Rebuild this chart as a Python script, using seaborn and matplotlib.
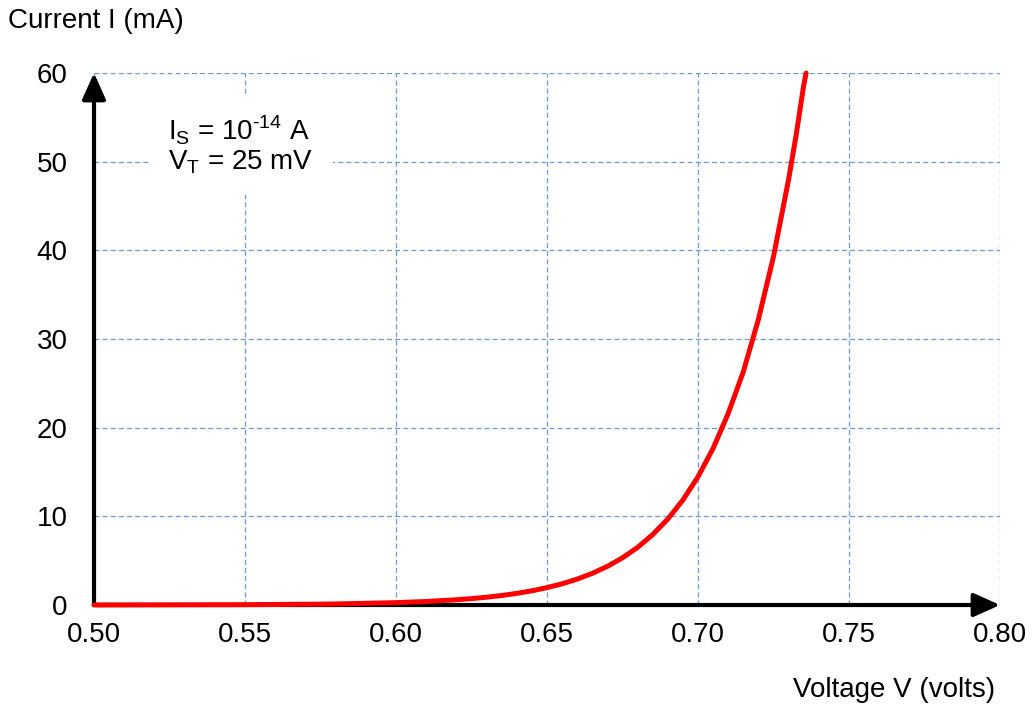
import matplotlib
matplotlib.use("Agg")
import matplotlib.pyplot as plt
import seaborn as sns
import pandas as pd

# Values (voltage in V, current in mA)
voltage = [0.500, 0.550, 0.575, 0.580, 0.600, 0.610, 0.620, 0.625, 0.630, 0.635,
           0.640, 0.645, 0.650, 0.655, 0.660, 0.665, 0.670, 0.675, 0.680, 0.685,
           0.690, 0.695, 0.700, 0.705, 0.710, 0.715, 0.720, 0.725, 0.730, 0.7325,
           0.735, 0.7358]
current = [0.005, 0.036, 0.097, 0.119, 0.265, 0.395, 0.589, 0.72, 0.879, 1.07,
           1.31, 1.60, 1.96, 2.39, 2.92, 3.57, 4.36, 5.32, 6.50, 7.94,
           9.69, 11.84, 14.46, 17.66, 21.6, 26.3, 32.2, 39.3, 48.0, 53.0,
           58.6, 60.0]

x_ticks = [0.50, 0.55, 0.60, 0.65, 0.70, 0.75, 0.80]
y_ticks = [0, 10, 20, 30, 40, 50, 60]
x_label = "Voltage V (volts)"
y_label = "Current I (mA)"
note_lines = ["I$_\\mathregular{S}$ = 10$^\\text{-14}$ A",
              "V$_\\mathregular{T}$ = 25 mV"]

df = pd.DataFrame({"V": voltage, "I": current})

sns.set_theme(style="white")
plt.rcParams["font.family"] = ["Liberation Sans", "DejaVu Sans"]
plt.rcParams["mathtext.fontset"] = "custom"
plt.rcParams["mathtext.rm"] = "Liberation Sans"
plt.rcParams["axes.unicode_minus"] = False
plt.rcParams["text.color"] = "black"

FS = 20

fig = plt.figure(figsize=(10.35, 7.11), dpi=100)
ax = fig.add_axes([94 / 1035, 1 - 605 / 711, 906 / 1035, 532 / 711])

sns.lineplot(data=df, x="V", y="I", ax=ax, color="#ff0000", linewidth=3.6,
             zorder=5, clip_on=False)

ax.set_xlim(0.50, 0.80)
ax.set_ylim(0, 60)
ax.set_xticks(x_ticks)
ax.set_xticklabels([f"{t:.2f}" for t in x_ticks])
ax.set_yticks(y_ticks)
ax.set_yticklabels([str(t) for t in y_ticks])
ax.tick_params(axis="both", length=0, labelsize=FS, colors="black")
ax.tick_params(axis="x", pad=12)
ax.tick_params(axis="y", pad=19)
ax.set_xlabel("")
ax.set_ylabel("")

for s in ax.spines.values():
    s.set_visible(False)

ax.set_axisbelow(True)
ax.grid(True, color="#6a9ad6", linestyle=(0, (4, 2.5)), linewidth=0.9)

# axis arrows
arrow_kw = dict(arrowstyle="-|>,head_width=0.36,head_length=0.8", lw=3,
                color="black", shrinkA=0, shrinkB=0, mutation_scale=20)
ax.annotate("", xy=(0, 1), xytext=(0, 0), xycoords="axes fraction",
            textcoords="axes fraction", arrowprops=arrow_kw, zorder=4,
            annotation_clip=False)
ax.annotate("", xy=(1, 0), xytext=(0, 0), xycoords="axes fraction",
            textcoords="axes fraction", arrowprops=arrow_kw, zorder=4,
            annotation_clip=False)

# annotation box
ax.text(0.5245, 51.9, "\n".join(note_lines), fontsize=FS, ha="left", va="center",
        linespacing=1.05, zorder=6, color="black",
        bbox=dict(facecolor="white", edgecolor="none", pad=14))

fig.text(8 / 1035, 1 - 21 / 711, y_label, fontsize=FS, ha="left", va="center",
         color="black")
fig.text(995 / 1035, 1 - 690 / 711, x_label, fontsize=FS, ha="right", va="center",
         color="black")

fig.savefig("out.png", dpi=100)
